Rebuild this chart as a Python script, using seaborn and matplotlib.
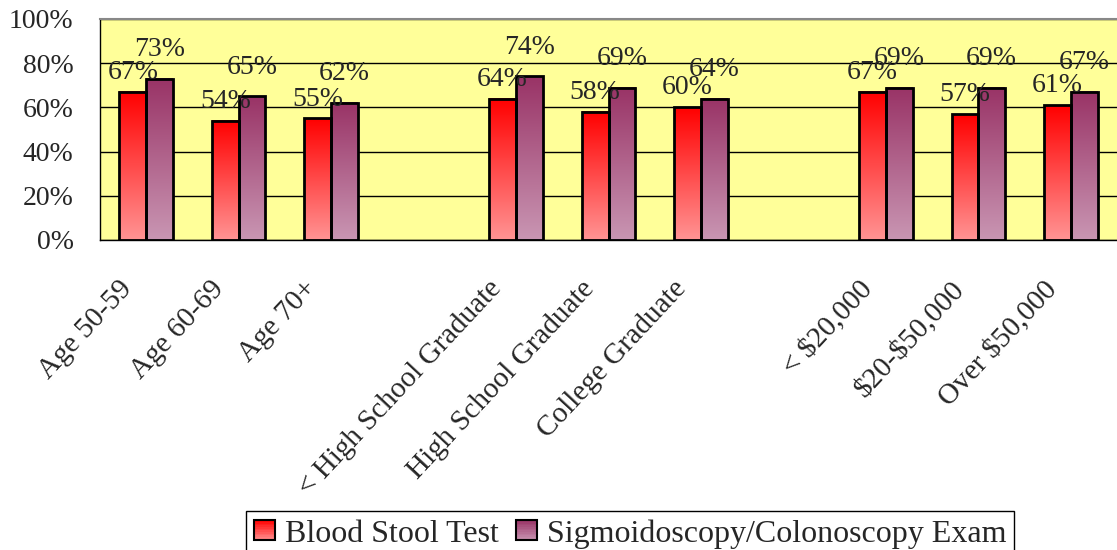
import numpy as np
import pandas as pd
import matplotlib
matplotlib.use('Agg')
import matplotlib.pyplot as plt
import seaborn as sns
from matplotlib.colors import LinearSegmentedColormap
from matplotlib.legend_handler import HandlerBase
from matplotlib.patches import Rectangle
from matplotlib.ticker import FixedLocator, PercentFormatter

# Data
categories = ["Age 50-59", "Age 60-69", "Age 70+",
              "< High School Graduate", "High School Graduate", "College Graduate",
              "< $20,000", "$20-$50,000", "Over $50,000"]
blood_stool = [67, 54, 55, 64, 58, 60, 67, 57, 61]
sigmoid_colon = [73, 65, 62, 74, 69, 64, 69, 69, 67]
series_names = ["Blood Stool Test", "Sigmoidoscopy/Colonoscopy Exam"]
# blank slots separate the three groups
slot_order = ["Age 50-59", "Age 60-69", "Age 70+", " ",
              "< High School Graduate", "High School Graduate", "College Graduate", "  ",
              "< $20,000", "$20-$50,000", "Over $50,000"]
y_ticks = [0, 20, 40, 60, 80, 100]

# (top colour, bottom colour) of each bar gradient
gradients = {
    "Blood Stool Test": ("#FF0000", "#FF9494"),
    "Sigmoidoscopy/Colonoscopy Exam": ("#993366", "#C996B3"),
}
label_pad = {"Blood Stool Test": 5, "Sigmoidoscopy/Colonoscopy Exam": 12}

df = pd.DataFrame({
    "category": categories * 2,
    "series": [series_names[0]] * len(categories) + [series_names[1]] * len(categories),
    "value": blood_stool + sigmoid_colon,
})

sns.set_style("white")
plt.rcParams['font.family'] = ['Liberation Serif', 'DejaVu Serif']

fig = plt.figure(figsize=(11.17, 5.5), dpi=100)
ax = fig.add_axes([100 / 1117, 1 - 240 / 550, 1017 / 1117, 221 / 550])
ax.set_facecolor("#FFFF99")

sns.barplot(data=df, x="category", y="value", hue="series", order=slot_order,
            hue_order=series_names, width=0.58, palette=["#FF0000", "#993366"],
            edgecolor="black", linewidth=2, legend=False, ax=ax)

# paint a vertical gradient into every bar
for cont, name in zip(ax.containers, series_names):
    top, bottom = gradients[name]
    cmap = LinearSegmentedColormap.from_list(name, [bottom, top])
    for bar in cont:
        x0, w, h = bar.get_x(), bar.get_width(), bar.get_height()
        ax.imshow(np.linspace(0, 1, 256).reshape(-1, 1), cmap=cmap, origin="lower",
                  extent=[x0, x0 + w, 0, h], aspect="auto", zorder=2)
        bar.set_facecolor("none")
        bar.set_zorder(3)
    ax.bar_label(cont, fmt="%.0f%%", padding=label_pad[name], fontsize=20, zorder=4)

ax.set_xlim(-0.5, len(slot_order) - 0.5)
ax.set_ylim(0, 100)
ax.set_yticks(y_ticks)
ax.yaxis.set_major_formatter(PercentFormatter(decimals=0))
ax.yaxis.grid(True, color="black", linewidth=1)
ax.set_axisbelow(True)
ax.set_xlabel("")
ax.set_ylabel("")

# category labels sit a little left of the slot centre, as in the original
ax.set_xticks(np.arange(len(slot_order)) - 0.2)
ax.set_xticklabels([s.replace("$", r"\$") for s in slot_order], rotation=47,
                   ha="right", va="center", rotation_mode="anchor", fontsize=21)
ax.xaxis.set_minor_locator(FixedLocator(np.arange(-0.5, len(slot_order), 1)))
ax.tick_params(axis="x", which="major", length=0, pad=32)
ax.tick_params(axis="x", which="minor", length=7, width=1, color="black", direction="out")
ax.tick_params(axis="y", length=7, width=1, color="black", direction="out", labelsize=20, pad=12)

for side in ["left", "bottom"]:
    ax.spines[side].set_color("black")
    ax.spines[side].set_linewidth(1)
ax.spines["top"].set_color("#888888")
ax.spines["top"].set_linewidth(1.5)
ax.spines["right"].set_visible(False)


class GradientHandler(HandlerBase):
    def __init__(self, top, bottom):
        super().__init__()
        self.cmap = LinearSegmentedColormap.from_list("h", [bottom, top])

    def create_artists(self, legend, orig_handle, xdescent, ydescent, width, height, fontsize, trans):
        n = 12
        artists = []
        for i in range(n):
            artists.append(Rectangle((-xdescent, -ydescent + height * i / n), width, height / n,
                                     facecolor=self.cmap((i + 0.5) / n), edgecolor="none",
                                     transform=trans))
        artists.append(Rectangle((-xdescent, -ydescent), width, height, facecolor="none",
                                 edgecolor="black", linewidth=1.5, transform=trans))
        return artists


handles = [Rectangle((0, 0), 1, 1) for _ in series_names]
handler_map = {h: GradientHandler(*gradients[n]) for h, n in zip(handles, series_names)}
leg = fig.legend(handles, series_names, handler_map=handler_map, loc="lower center",
                 bbox_to_anchor=(0.564, -0.012), ncol=2, fontsize=23, frameon=True,
                 fancybox=False, edgecolor="black", framealpha=1, borderpad=0.25,
                 handlelength=0.66, handleheight=0.6, handletextpad=0.31, columnspacing=0.53,
                 borderaxespad=0)
leg.get_frame().set_linewidth(1)

fig.savefig("out.png", dpi=100)
